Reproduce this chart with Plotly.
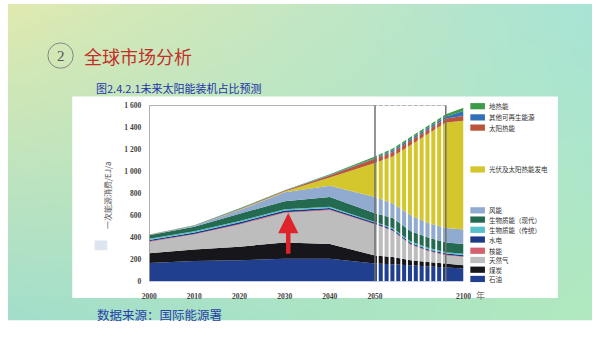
import base64, zlib, struct
import numpy as np
import plotly.graph_objects as go

# ---------------- data (EJ/a) ----------------
years = [2000, 2010, 2020, 2030, 2040, 2050, 2060, 2070, 2080, 2090, 2100]
oil        = [168, 185, 192, 206, 206, 162, 156, 147, 141, 133, 118]
coal       = [88, 105, 123, 148, 133, 74, 65, 45, 36, 29, 29]
gas        = [102, 135, 200, 268, 306, 280, 236, 141, 97, 74, 74]
nuclear    = [6, 6, 7, 7, 7, 6, 6, 6, 6, 6, 6]
hydro      = [12, 13, 14, 14, 14, 12, 12, 13, 13, 12, 12]
bio_trad   = [12, 12, 12, 12, 12, 11, 11, 12, 12, 11, 11]
bio_modern = [32, 40, 67, 73, 88, 74, 89, 93, 93, 89, 89]
wind       = [2, 7, 30, 82, 103, 147, 132, 147, 132, 132, 132]
pv         = [0, 1, 5, 7, 74, 309, 427, 633, 811, 958, 987]
solar_th   = [1, 2, 6, 6, 18, 36, 41, 40, 39, 36, 45]
other_re   = [1, 2, 4, 2, 5, 9, 17, 18, 18, 18, 44]
geothermal = [2, 2, 4, 3, 6, 14, 16, 16, 16, 19, 29]

tick_years = [2000, 2010, 2020, 2030, 2040, 2050, 2100]
tick_text = ["2000", "2010", "2020", "2030", "2040", "2050", "2100"]
y_ticks = [0, 200, 400, 600, 800, 1000, 1200, 1400, 1600]
y_tick_text = ["0", "200", "400", "600", "800", "1 000", "1 200", "1 400", "1 600"]

series = [
    ("石油", oil, "#213f8f"),
    ("煤炭", coal, "#16161b"),
    ("天然气", gas, "#bdbdbd"),
    ("核能", nuclear, "#d4606c"),
    ("水电", hydro, "#1c3a86"),
    ("生物质能（传统）", bio_trad, "#58c0ca"),
    ("生物质能（现代）", bio_modern, "#236a50"),
    ("风能", wind, "#90aad0"),
    ("光伏及太阳热能发电", pv, "#d4c72e"),
    ("太阳热能", solar_th, "#bb543a"),
    ("其他可再生能源", other_re, "#3270b8"),
    ("地热能", geothermal, "#3d9a48"),
]

W, H = 600, 337


def tx(y):
    # axis is compressed after 2050
    return y if y <= 2050 else 2050 + (y - 2050) * 0.392


def px(x):
    return x / W


def py(y):
    return 1 - y / H


# ---------------- background gradient image ----------------
yy, xx = np.mgrid[0:H, 0:W]
u = (xx / (W - 1))[..., None]
v = (yy / (H - 1))[..., None]
TL = np.array([224, 234, 176.0])
TR = np.array([168, 228, 214.0])
BL = np.array([160, 222, 204.0])
BR = np.array([178, 233, 190.0])
img = TL * (1 - u) * (1 - v) + TR * u * (1 - v) + BL * (1 - u) * v + BR * u * v
img = np.clip(img, 0, 255).astype(np.uint8)


def png_bytes(arr):
    h, w, _ = arr.shape
    raw = b"".join(b"\x00" + arr[r].tobytes() for r in range(h))

    def chunk(t, d):
        return struct.pack(">I", len(d)) + t + d + struct.pack(">I", zlib.crc32(t + d) & 0xFFFFFFFF)

    return (b"\x89PNG\r\n\x1a\n" + chunk(b"IHDR", struct.pack(">IIBBBBB", w, h, 8, 2, 0, 0, 0))
            + chunk(b"IDAT", zlib.compress(raw, 9)) + chunk(b"IEND", b""))


bg_src = "data:image/png;base64," + base64.b64encode(png_bytes(img)).decode()

# ---------------- figure ----------------
fig = go.Figure()
X = [tx(y) for y in years]
for name, vals, col in series:
    fig.add_trace(go.Scatter(
        x=X, y=vals, stackgroup="one", mode="lines", name=name,
        line=dict(width=0, color=col), fillcolor=col,
        showlegend=False, hoverinfo="skip"))

x_lo, x_hi = tx(2000), tx(2100)
y_top = 1600
shapes = []
# white card and white bottom strip
shapes.append(dict(type="rect", xref="paper", yref="paper", x0=px(66), x1=px(565),
                   y0=py(302), y1=py(95), fillcolor="white", line=dict(width=0), layer="below"))
shapes.append(dict(type="rect", xref="paper", yref="paper", x0=0, x1=1,
                   y0=0, y1=py(325), fillcolor="white", line=dict(width=0), layer="below"))
# small pale rectangle at left
shapes.append(dict(type="rect", xref="paper", yref="paper", x0=px(89), x1=px(102),
                   y0=py(253), y1=py(243), fillcolor="#dde6ee", line=dict(width=0), layer="below"))
# title circle
shapes.append(dict(type="circle", xref="paper", yref="paper", x0=px(41), x1=px(67),
                   y0=py(66), y1=py(40), line=dict(color="#858585", width=1)))
# frame
shapes.append(dict(type="line", xref="x", yref="y", x0=x_lo, x1=x_lo, y0=0, y1=y_top,
                   line=dict(color="#9a9a9a", width=1.5)))
shapes.append(dict(type="line", xref="x", yref="y", x0=x_lo, x1=tx(2090), y0=y_top, y1=y_top,
                   line=dict(color="#9a9a9a", width=1.5)))
for yr in (2050, 2090):
    shapes.append(dict(type="line", xref="x", yref="y", x0=tx(yr), x1=tx(yr), y0=0, y1=y_top,
                       line=dict(color="#707070", width=1.5)))
# white stripes between 2050 and 2090
for k in range(12):
    xs = tx(2051.6 + 3.3 * k)
    shapes.append(dict(type="line", xref="x", yref="y", x0=xs, x1=xs, y0=0, y1=y_top + 20,
                       line=dict(color="white", width=1.8)))

# legend (drawn manually, with the gaps of the original)
legend_rows = {
    "地热能": 105, "其他可再生能源": 116.5, "太阳热能": 127, "光伏及太阳热能发电": 170,
    "风能": 212, "生物质能（现代）": 221.5, "生物质能（传统）": 232, "水电": 242,
    "核能": 253.5, "天然气": 263, "煤炭": 273, "石油": 282.5,
}
annotations = []
for name, vals, col in series:
    ycen = legend_rows[name]
    shapes.append(dict(type="rect", xref="paper", yref="paper", x0=px(475), x1=px(490),
                       y0=py(ycen + 3.2), y1=py(ycen - 3.2), fillcolor=col, line=dict(width=0)))
    annotations.append(dict(xref="paper", yref="paper", x=px(493), y=py(ycen), text=name,
                            showarrow=False, xanchor="left", yanchor="middle", borderpad=0,
                            font=dict(family="Noto Sans CJK SC", size=6.5, color="#333333")))

# texts
annotations += [
    dict(xref="paper", yref="paper", x=px(54.5), y=py(53), text="2", showarrow=False,
         xanchor="center", yanchor="middle",
         font=dict(family="Liberation Serif", size=15, color="#555555")),
    dict(xref="paper", yref="paper", x=px(76), y=py(53), text="全球市场分析", showarrow=False,
         xanchor="left", yanchor="middle",
         font=dict(family="Noto Sans CJK SC", size=18, color="#c2302a")),
    dict(xref="paper", yref="paper", x=px(88), y=py(86), text="图2.4.2.1未来太阳能装机占比预测",
         showarrow=False, xanchor="left", yanchor="middle",
         font=dict(family="Noto Sans CJK SC", size=11, color="#2234a8")),
    dict(xref="paper", yref="paper", x=px(89), y=py(319), text="数据来源：国际能源署",
         showarrow=False, xanchor="left", yanchor="middle",
         font=dict(family="Noto Sans CJK SC", size=12.5, color="#2a3fa8")),
    dict(xref="paper", yref="paper", x=px(103), y=py(196), text="一次能源消费/EJ/a",
         showarrow=False, textangle=-90, xanchor="center", yanchor="middle",
         font=dict(family="Noto Sans CJK SC", size=8, color="#555555")),
    dict(xref="paper", yref="paper", x=px(479), y=py(299), text="年",
         showarrow=False, xanchor="left", yanchor="middle",
         font=dict(family="Noto Sans CJK SC", size=9, color="#777777")),
    # red arrow
    dict(xref="x", yref="y", axref="x", ayref="y", x=tx(2030.8), y=622,
         ax=tx(2030.8), ay=238, text="", showarrow=True, arrowhead=2, arrowsize=0.9,
         arrowwidth=4.5, arrowcolor="#e0222a"),
]

fig.update_layout(
    width=W, height=H, autosize=False,
    margin=dict(l=0, r=0, t=0, b=0),
    paper_bgcolor="white", plot_bgcolor="rgba(0,0,0,0)",
    images=[dict(source=bg_src, xref="paper", yref="paper", x=0, y=1, sizex=1, sizey=1,
                 sizing="stretch", layer="below", xanchor="left", yanchor="top")],
    shapes=shapes, annotations=annotations,
    xaxis=dict(domain=[px(145), px(468)], range=[x_lo, x_hi], showgrid=False, zeroline=False,
               showline=False, tickvals=[tx(y) for y in tick_years], ticktext=tick_text,
               ticks="", ticklabelstandoff=9,
               tickfont=dict(family="Liberation Serif", size=7.5, color="#444444", weight="bold")),
    yaxis=dict(domain=[py(285), py(104)], range=[0, 1600], showgrid=False, zeroline=False,
               showline=False, tickvals=y_ticks, ticktext=y_tick_text, ticks="",
               ticklabelstandoff=7,
               tickfont=dict(family="Liberation Serif", size=7.5, color="#444444", weight="bold")),
)

fig.write_html("out.html")
